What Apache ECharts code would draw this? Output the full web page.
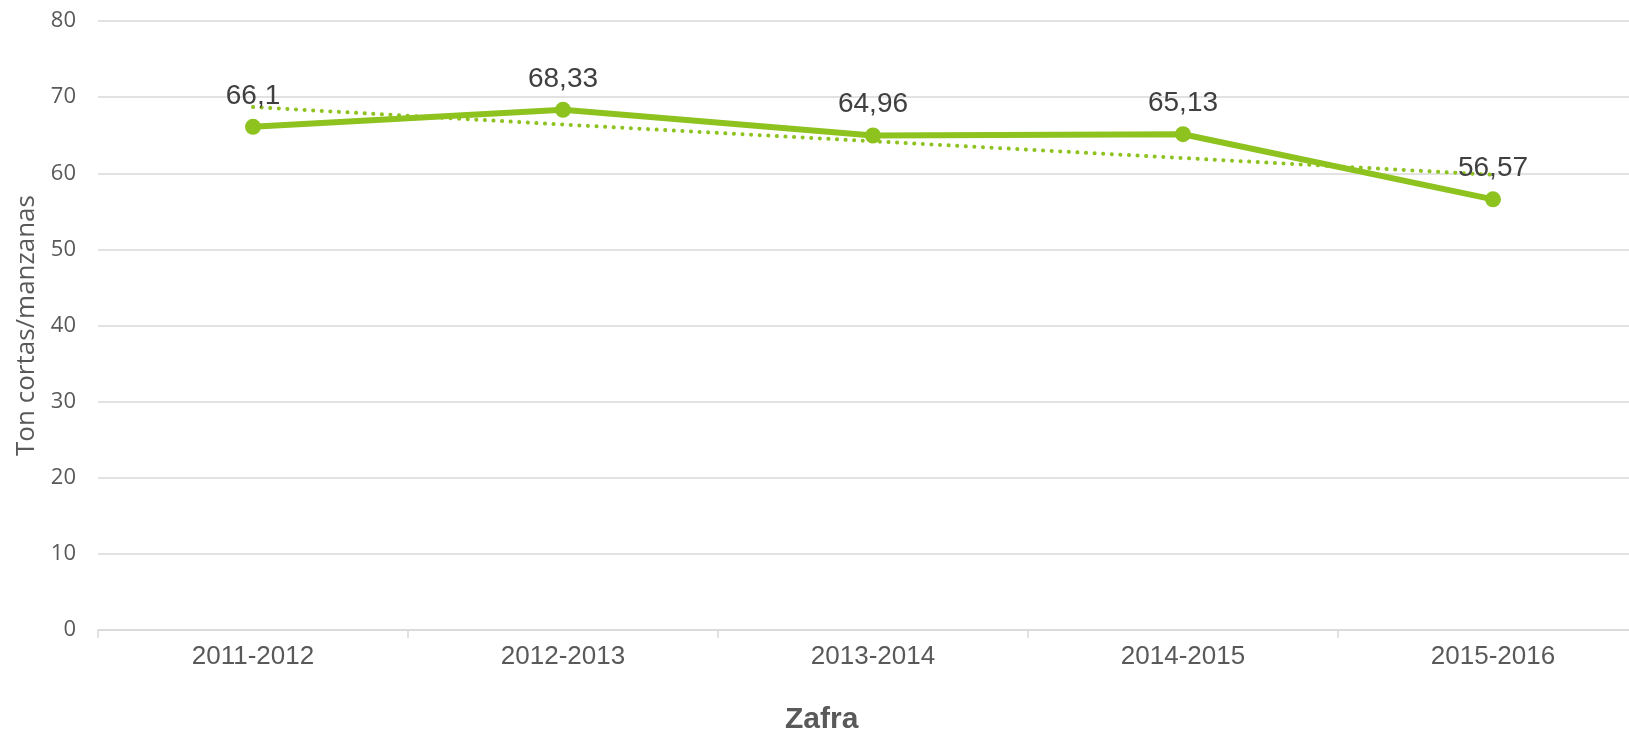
<!DOCTYPE html>
<html>
<head>
<meta charset="utf-8">
<title>Zafra</title>
<script src="https://cdn.jsdelivr.net/npm/echarts@6/dist/echarts.min.js"></script>
<style>
  html, body { margin: 0; padding: 0; background: #ffffff; overflow: hidden; }
  /* el grafico original queda recortado por la derecha */
  #chart { width: 1650px; height: 733px; }
</style>
</head>
<body>
<div id="chart"></div>
<script>
// datos del grafico
const zafras = ['2011-2012', '2012-2013', '2013-2014', '2014-2015', '2015-2016']
const rendimiento = [66.1, 68.33, 64.96, 65.13, 56.57]
// linea de tendencia
const tendencia = [68.7, 66.4, 64.2, 62.0, 59.8]
const yTicks = [0, 10, 20, 30, 40, 50, 60, 70, 80]

const green = '#8dc21f'
const chart = echarts.init(document.getElementById('chart'))

const option = {
  animation: false,
  title: {
    text: 'Zafra',
    left: 780,
    top: 700,
    textStyle: {
      fontFamily: 'Liberation Sans, Arial',
      fontSize: 30,
      fontWeight: 'bold',
      color: '#595959'
    }
  },
  grid: {
    left: 98,
    right: 2,
    top: 21,
    bottom: 103
  },
  xAxis: {
    type: 'category',
    data: zafras,
    boundaryGap: true,
    axisLine: { lineStyle: { color: '#d9d9d9', width: 1.5 } },
    axisTick: { show: true, length: 8, lineStyle: { color: '#d9d9d9', width: 1.5 } },
    axisLabel: {
      margin: 14,
      fontFamily: 'Liberation Sans, Arial',
      fontSize: 26,
      color: '#595959'
    }
  },
  yAxis: {
    type: 'value',
    min: yTicks[0],
    max: yTicks[yTicks.length - 1],
    interval: 10,
    name: 'Ton cortas/manzanas',
    nameLocation: 'middle',
    nameGap: 56,
    nameTextStyle: {
      fontFamily: 'Open Sans',
      fontSize: 26,
      color: '#595959'
    },
    axisLine: { show: false },
    axisTick: { show: false },
    axisLabel: {
      margin: 22,
      fontFamily: 'Open Sans',
      fontSize: 22,
      color: '#595959'
    },
    splitLine: { lineStyle: { color: '#d9d9d9', width: 1.5 } }
  },
  series: [
    {
      name: 'Tendencia',
      type: 'line',
      data: tendencia,
      symbol: 'none',
      lineStyle: { color: green, width: 4, type: [0.1, 8.5], cap: 'round' },
      z: 1
    },
    {
      name: 'Rendimiento',
      type: 'line',
      data: rendimiento,
      symbol: 'circle',
      symbolSize: 16,
      itemStyle: { color: green },
      lineStyle: { color: green, width: 6 },
      label: {
        show: true,
        position: 'top',
        distance: 9,
        fontFamily: 'Liberation Sans, Arial',
        fontSize: 28,
        color: '#404040',
        formatter: function (p) {
          return String(p.value).replace('.', ',')
        }
      },
      z: 2
    }
  ]
}
chart.setOption(option)
</script>
</body>
</html>
